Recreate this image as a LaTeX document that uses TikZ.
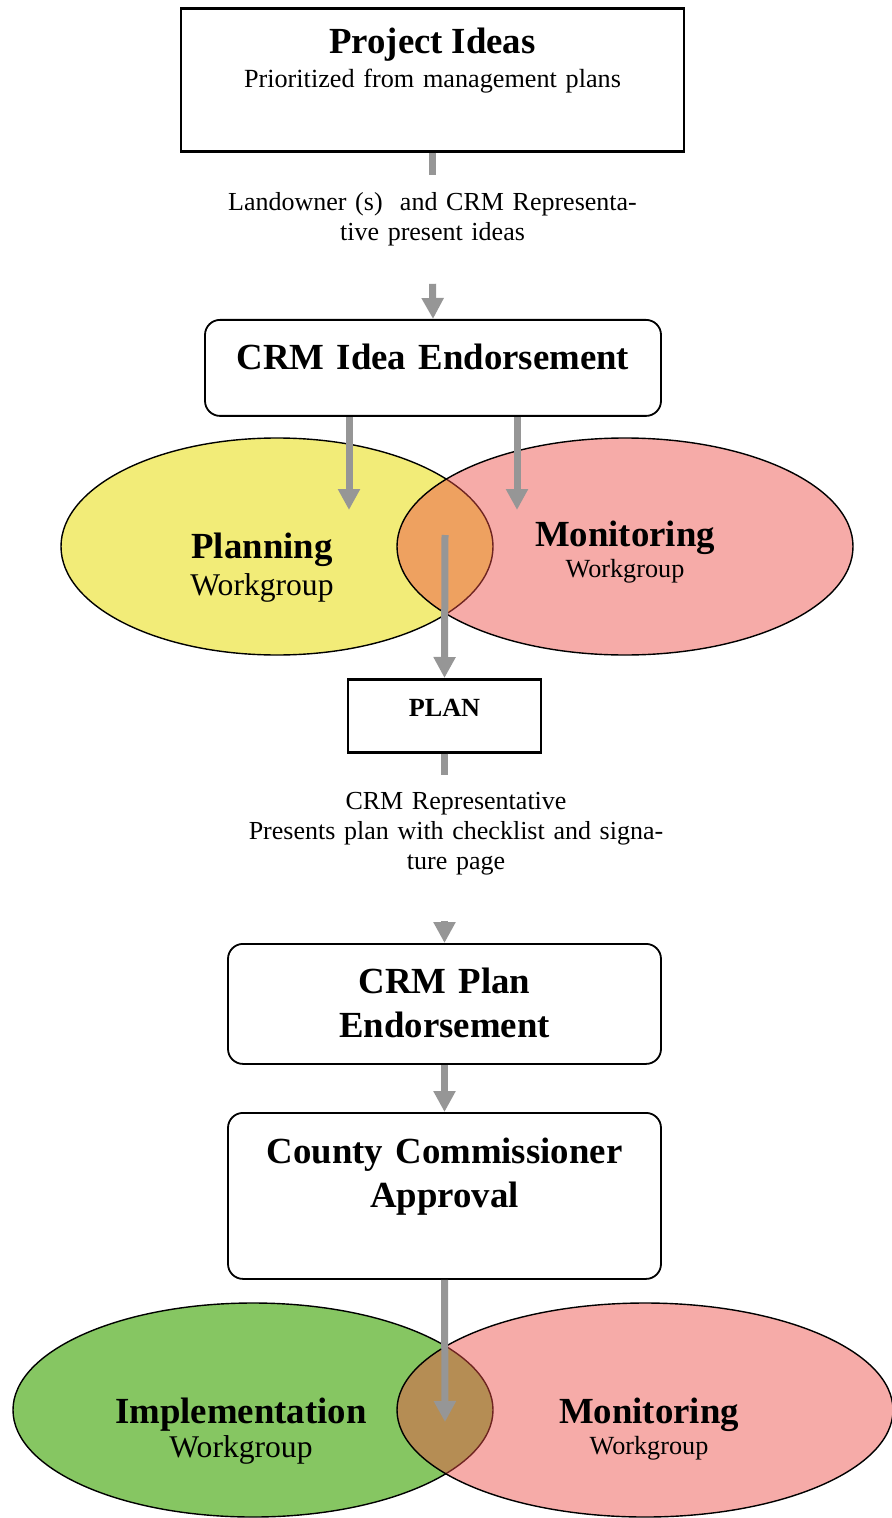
\documentclass[tikz,border=0pt]{standalone}
\usepackage{fontspec}
\setmainfont{Liberation Serif}
\usetikzlibrary{shapes,arrows.meta}

\definecolor{planyellow}{RGB}{242,236,120}
\definecolor{monpink}{RGB}{235,77,70}
\definecolor{impgreen}{RGB}{134,198,98}
\definecolor{flowgray}{RGB}{150,150,150}

\newcommand{\titlefont}{\fontsize{18.4}{22}\selectfont\bfseries}
\newcommand{\bodyfont}{\fontsize{13}{15}\selectfont}
\newcommand{\groupfont}{\fontsize{15.8}{18.5}\selectfont}

\begin{document}
\begin{tikzpicture}[x=0.5pt,y=-0.5pt,
  box/.style={draw, line width=1.3pt, inner sep=0pt, align=center, anchor=north},
  roundbox/.style={box, rounded corners=7.5pt, line width=0.9pt},
  group/.style={ellipse, draw, line width=0.7pt, inner sep=0pt, minimum height=108.5pt},
  overlap/.style={group, fill=monpink, fill opacity=0.47},
  grouptext/.style={align=center, inner sep=0pt, anchor=base, text width=140pt},
  note/.style={align=center, inner sep=0pt, anchor=north, font=\bodyfont},
  flow/.style={draw=flowgray, line width=3.5pt},
  flowto/.style={flow, -{Triangle[width=10.5pt,length=10.5pt]}}]
\useasboundingbox (0,0) rectangle (891,1518);

\node[group, fill=planyellow, minimum width=216pt] (planning) at (277,546.5) {};
\node[overlap, minimum width=228pt] (monitoring) at (625,546.5) {};
\node[group, fill=impgreen, minimum width=240pt, minimum height=107pt] (implementation) at (253,1410) {};
\node[overlap, minimum width=248pt, minimum height=107pt] (monitoringb) at (645,1410) {};

\node[box, text width=251.5pt, text height=22.5pt, text depth=49pt,
  font={\fontsize{13.1}{17}\selectfont}] (ideas) at (432.5,7)
  {{\titlefont Project Ideas}\\Prioritized from management plans};
\node[note, text width=220pt, text height=17.5pt, text depth=36.5pt] (present) at (432.5,175)
  {Landowner (s) \ and CRM Representa-\\tive present ideas};
\node[roundbox, text width=228pt, text height=25pt, text depth=23pt, font=\titlefont] (endorse) at (433,319)
  {CRM Idea Endorsement};
\node[box, text width=96.5pt, text height=18.5pt, text depth=18pt,
  font={\fontsize{13.1}{15}\selectfont\bfseries}] (plan) at (444.5,678) {PLAN};
\node[note, text width=230pt, text height=17pt, text depth=55.5pt] (presentplan) at (456,775)
  {CRM Representative\\Presents plan with checklist and signa-\\ture page};
\node[roundbox, text width=216.5pt, text height=25pt, text depth=35pt, font=\titlefont] (planend) at (444.5,943)
  {CRM Plan\\Endorsement};
\node[roundbox, text width=216.5pt, text height=25.5pt, text depth=57.5pt, font=\titlefont] (approval) at (444.5,1112)
  {County Commissioner\\Approval};

\coordinate (plantip) at (349,510);
\coordinate (montip) at (517,510);
\coordinate (lenstop) at (445,535);
\coordinate (lenstip) at (445,1422);

\draw[flow] (ideas.south) -- (present.north);
\draw[flowto] (present.south) -- (endorse.north);
\draw[flowto] (endorse.south -| plantip) -- (plantip);
\draw[flowto] (endorse.south -| montip) -- (montip);
\draw[flowto] (lenstop) -- (plan.north);
\draw[flow] (plan.south) -- (plan.south |- presentplan.north);
\draw[flowto] (plan.south |- presentplan.south) -- (planend.north);
\draw[flowto] (planend.south) -- (approval.north);
\draw[flowto] (approval.south) -- (lenstip);

\node[grouptext, font=\groupfont] (planningtext) at (262,558) {{\titlefont Planning}\\Workgroup};
\node[grouptext, font={\fontsize{13.1}{15.5}\selectfont}] (monitoringtext) at (625,546) {{\titlefont Monitoring}\\Workgroup};
\node[grouptext, font={\fontsize{15.8}{17}\selectfont}] (implementationtext) at (241,1423) {{\titlefont Implementation}\\Workgroup};
\node[grouptext, font={\fontsize{13.1}{15.5}\selectfont}] (monitoringbtext) at (649,1423) {{\titlefont Monitoring}\\Workgroup};
\end{tikzpicture}
\end{document}
